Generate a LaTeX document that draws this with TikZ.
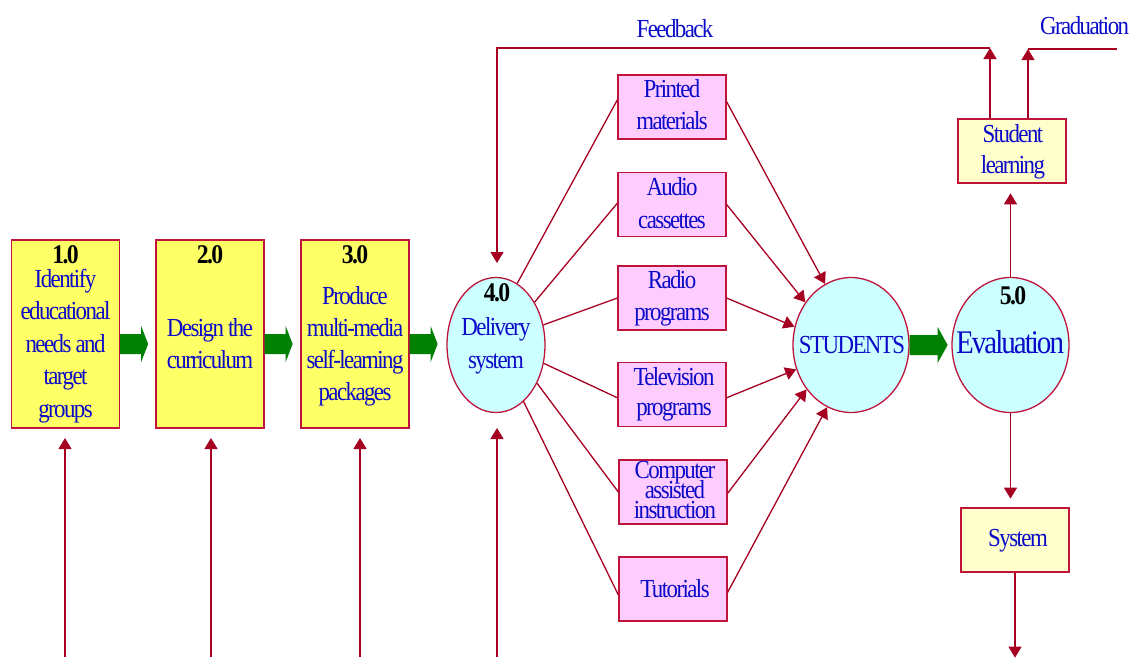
\documentclass[tikz,border=0pt]{standalone}
\usepackage{fontspec}
\setmainfont{Liberation Serif}[FakeStretch=0.88,LetterSpace=-6]
\usetikzlibrary{arrows.meta,shapes.geometric,calc}
\definecolor{lnred}{RGB}{165,0,33}
\definecolor{bdred}{RGB}{190,20,60}
\definecolor{txtblue}{RGB}{10,10,200}
\definecolor{yel}{RGB}{255,255,102}
\definecolor{lyel}{RGB}{255,255,204}
\definecolor{pnk}{RGB}{255,204,255}
\definecolor{cyn}{RGB}{204,255,255}
\definecolor{grn}{RGB}{0,128,0}
\newcommand{\ml}[2]{\vtop{\baselineskip=#1pt\lineskiplimit=-100pt\halign{\hfil##\hfil\cr#2\crcr}}}
\begin{document}
\begin{tikzpicture}[x=1pt,y=-1pt,
 conn/.style={draw=lnred,line width=1.3pt},
 arr/.style={conn,-{Triangle[length=11pt,width=13pt]}},
 procbox/.style={draw=bdred,line width=1.3pt,fill=yel,minimum width=108pt,minimum height=188pt,inner sep=0pt},
 medbox/.style={draw=bdred,line width=1.3pt,fill=pnk,minimum width=108pt,minimum height=64pt,inner sep=0pt},
 outbox/.style={draw=bdred,line width=1.3pt,fill=lyel,minimum width=108pt,minimum height=64pt,inner sep=0pt},
 oval/.style={ellipse,draw=bdred,line width=1.3pt,fill=cyn,inner sep=0pt,minimum height=135pt},
 txt/.style={anchor=base,inner sep=0pt,text=txtblue,font=\fontsize{26}{32}\selectfont},
 num/.style={anchor=base,inner sep=0pt,text=black,font=\bfseries\fontsize{27}{27}\selectfont}]
\useasboundingbox (0,0) rectangle (1133,657);

% process boxes
\node[procbox] (b1) at (65.5,334) {};
\node[procbox] (b2) at (210,334) {};
\node[procbox] (b3) at (355,334) {};
\node[num] (n1) at (65.5,263) {1.0};
\node[num] (n2) at (210,263) {2.0};
\node[num] (n3) at (355,263) {3.0};
\node[txt] (t1) at (65.5,287) {\ml{32.5}{Identify\cr educational\cr needs and\cr target\cr groups}};
\node[txt] (t2) at (210,336) {\ml{32}{Design the\cr curriculum}};
\node[txt] (t3) at (355,304) {\ml{32}{Produce\cr multi-media\cr self-learning\cr packages}};

% delivery ellipse
\node[oval,minimum width=98pt] (del) at (496,345) {};
\node[num] (n4) at (497,301) {4.0};
\node[txt] (t4) at (496,335) {\ml{33}{Delivery\cr system}};

% media boxes
\node[medbox] (pm) at (672,107) {};
\node[medbox] (ac) at (672,204.5) {};
\node[medbox] (rp) at (672,298) {};
\node[medbox] (tv) at (672,394.5) {};
\node[medbox] (ca) at (673,492) {};
\node[medbox] (tu) at (673,589) {};
\node[txt] (tpm) at (672,97) {\ml{32}{Printed\cr materials}};
\node[txt] (tac) at (672,195) {\ml{33}{Audio\cr cassettes}};
\node[txt] (trp) at (672,288) {\ml{32}{Radio\cr programs}};
\node[txt] (ttv) at (674,385) {\ml{30}{Television\cr programs}};
\node[txt] (tca) at (675,478) {\ml{20}{Computer\cr assisted\cr instruction}};
\node[txt] (ttu) at (675,597) {Tutorials};

% students and evaluation
\node[oval,minimum width=116pt] (stu) at (851,345) {};
\node[txt] (tstu) at (852,353) {STUDENTS};
\node[oval,minimum width=117pt] (ev) at (1010.5,345) {};
\node[num] (n5) at (1013,304) {5.0};
\node[txt,font=\fontsize{33}{33}\selectfont] (tev) at (1010,353) {Evaluation};

\node[outbox] (sl) at (1012,151) {};
\node[txt] (tsl) at (1013,142) {\ml{31}{Student\cr learning}};
\node[outbox] (sy) at (1015,540) {};
\node[txt] (tsy) at (1018,546) {System};

\node[txt] (fb) at (675,37) {Feedback};
\node[txt,anchor=base west] (gr) at (1040,34) {Graduation};

% green arrows
\fill[grn] ([yshift=-10pt]b1.east) ++(0,-10) -- ++(21,0) -- ++(0,-8) -- ++(7,18) -- ++(-7,18) -- ++(0,-8) -- ++(-21,0) -- cycle;
\fill[grn] ([yshift=-10pt]b2.east) ++(0,-10) -- ++(21,0) -- ++(0,-8) -- ++(7,18) -- ++(-7,18) -- ++(0,-8) -- ++(-21,0) -- cycle;
\fill[grn] ([yshift=-10pt]b3.east) ++(0,-10) -- ++(21,0) -- ++(0,-8) -- ++(7,18) -- ++(-7,18) -- ++(0,-8) -- ++(-21,0) -- cycle;
\fill[grn] (stu.east) ++(0,-10) -- ++(28,0) -- ++(0,-8) -- ++(10,18) -- ++(-10,18) -- ++(0,-8) -- ++(-28,0) -- cycle;

% delivery to media
\draw[conn] (del.71) -- ($(pm.north west)!0.39!(pm.south west)$);
\draw[conn] (del.48) -- ($(ac.north west)!0.48!(ac.south west)$);
\draw[conn] (del.23) -- ($(rp.north west)!0.5!(rp.south west)$);
\draw[conn] (del.-21) -- ($(tv.north west)!0.55!(tv.south west)$);
\draw[conn] (del.-43) -- ($(ca.north west)!0.5!(ca.south west)$);
\draw[conn] (del.-64) -- ($(tu.north west)!0.59!(tu.south west)$);

% media to students
\draw[arr] ($(pm.north east)!0.42!(pm.south east)$) -- (stu.113);
\draw[arr] ($(ac.north east)!0.5!(ac.south east)$) -- (stu.137);
\draw[arr] ($(rp.north east)!0.5!(rp.south east)$) -- (stu.162);
\draw[arr] ($(tv.north east)!0.55!(tv.south east)$) -- (stu.204);
\draw[arr] ($(ca.north east)!0.52!(ca.south east)$) -- (stu.225);
\draw[arr] ($(tu.north east)!0.55!(tu.south east)$) -- (stu.249);

% inputs from below
\coordinate (in1) at (65,657);
\coordinate (in2) at (211,657);
\coordinate (in3) at (360,657);
\coordinate (in4) at (497,657);
\draw[arr] (in1) -- ++(0,-219);
\draw[arr] (in2) -- ++(0,-219);
\draw[arr] (in3) -- ++(0,-219);
\draw[arr] (in4) -- ++(0,-229);

% evaluation links
\draw[arr] (ev.north) -- ++(0,-83.5);
\draw[arr] (ev.south) -- ++(0,85.5);
\draw[arr] (sy.south) -- ++(0,85);

% feedback and graduation
\coordinate (fbc) at (990,48);
\coordinate (fbl) at (497,48);
\coordinate (grc) at (1028,49);
\coordinate (gre) at (1117,49);
\draw[arr] (sl.north -| fbc) -- (fbc);
\draw[arr] (fbc) -- (fbl) -- ++(0,215);
\draw[arr] (sl.north -| grc) -- (grc);
\draw[conn] (grc) -- (gre);
\end{tikzpicture}
\end{document}
